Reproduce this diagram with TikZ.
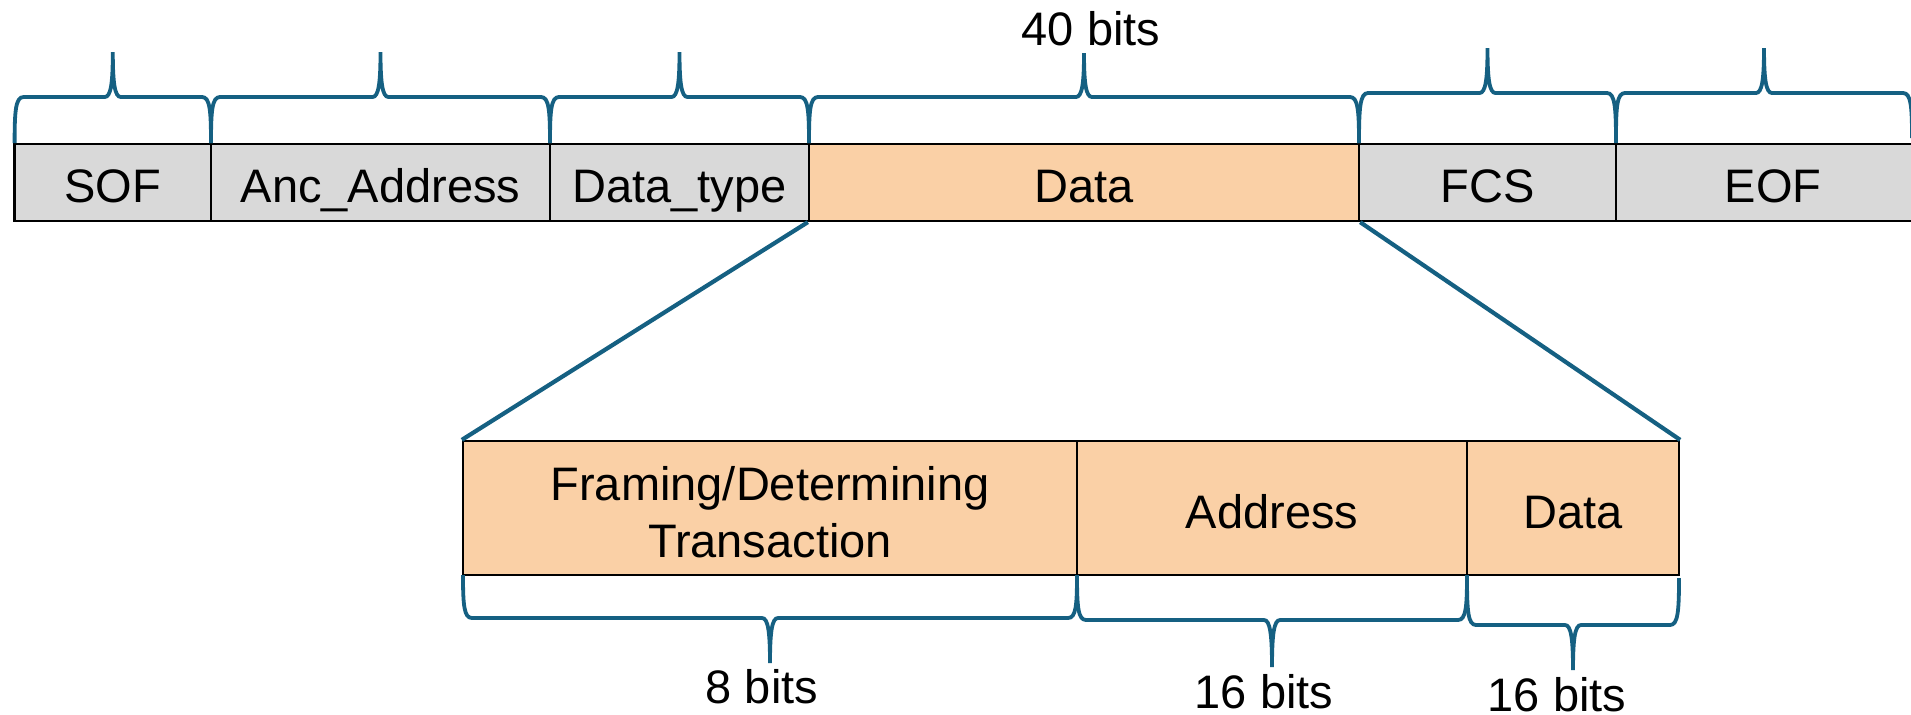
\documentclass[tikz,border=0pt]{standalone}
\usepackage{fontspec}
\setmainfont{Liberation Sans}
\usetikzlibrary{fit,calc}

\definecolor{bracecol}{HTML}{156082}
\definecolor{fieldgray}{HTML}{D9D9D9}
\definecolor{fieldpeach}{HTML}{FAD0A6}

\tikzset{
  field/.style={draw=black, line width=1.15pt, inner sep=0pt, fit={#1}},
  lbl/.style={font=\fontsize{23.5}{28}\selectfont, anchor=base, inner sep=0pt},
  bracestyle/.style={draw=bracecol, line width=1.9pt},
  zoomline/.style={draw=bracecol, line width=2.1pt},
}

% Curly brace over/under a field:
% #1,#2 = x of the two ends, #3 = y of the ends, #4 = y of the bar, #5 = y of the tip
\newcommand{\bitbrace}[5]{%
  \pgfmathsetmacro\bm{(#1+#2)/2}%
  \pgfmathsetmacro\be{#4+0.3*(#3-#4)}%
  \pgfmathsetmacro\bt{#4+0.3*(#5-#4)}%
  \draw[bracestyle] (#1,#3) .. controls (#1,\be) and (#1+1,#4) .. (#1+9,#4)
     -- (\bm-8,#4) .. controls (\bm-2,#4) and (\bm,\bt) .. (\bm,#5)
     .. controls (\bm,\bt) and (\bm+2,#4) .. (\bm+8,#4)
     -- (#2-9,#4) .. controls (#2-1,#4) and (#2,\be) .. (#2,#3);
}

\begin{document}
\begin{tikzpicture}[x=0.5pt,y=-0.5pt]
\useasboundingbox (0,0) rectangle (1911,714);
\clip (0,0) rectangle (1911,714);

% frame fields
\node[field={(14.6,144) (211,221)}, fill=fieldgray] (sof) {};
\node[field={(211,144) (550,221)}, fill=fieldgray] (anc) {};
\node[field={(550,144) (809,221)}, fill=fieldgray] (dtype) {};
\node[field={(809,144) (1359,221)}, fill=fieldpeach] (dat) {};
\node[field={(1359,144) (1616,221)}, fill=fieldgray] (fcs) {};
\node[field={(1616,144) (1930,221)}, fill=fieldgray] (eof) {};

\node[lbl] (tsof) at ($(sof.center)+(0,19.7)$) {SOF};
\node[lbl] (tanc) at ($(anc.center)+(0,19.7)$) {Anc\_Address};
\node[lbl] (tdtype) at ($(dtype.center)+(0,19.7)$) {Data\_type};
\node[lbl] (tdat) at ($(dat.center)+(0,19.7)$) {Data};
\node[lbl] (tfcs) at ($(fcs.center)+(0,19.7)$) {FCS};
\node[lbl] (teof) at ($(eof.center)+(0,19.7)$) {EOF};

% expanded data field
\node[field={(463,441) (1077,575)}, fill=fieldpeach] (fr) {};
\node[field={(1077,441) (1467,575)}, fill=fieldpeach] (ad) {};
\node[field={(1467,441) (1679,575)}, fill=fieldpeach] (dl) {};

\node[lbl] (tfr1) at ($(fr.center)+(0,-8)$) {Framing/Determining};
\node[lbl] (tfr2) at ($(fr.center)+(0,49)$) {Transaction};
\node[lbl] (tad) at ($(ad.center)+(0,20)$) {Address};
\node[lbl] (tdl) at ($(dl.center)+(0,20)$) {Data};

% zoom lines
\draw[zoomline] (dat.south west) -- (fr.north west);
\draw[zoomline] (dat.south east) -- (dl.north east);

% braces above the frame
\bitbrace{14.6}{211}{143}{97}{52}
\bitbrace{211}{550}{143}{97}{52}
\bitbrace{550}{809}{143}{97}{52}
\bitbrace{809}{1359}{143}{97}{53}
\bitbrace{1359}{1616}{143}{93}{48}
\bitbrace{1616}{1912}{138}{93}{48}

% braces below the expanded data field
\bitbrace{463}{1077}{575}{618}{663}
\bitbrace{1077}{1467}{575}{620}{667}
\bitbrace{1467}{1679}{578}{625}{670}

% sizes
\node[lbl] (b40) at (1091,45) {40 bits};
\node[lbl] (b8) at (762,703) {8 bits};
\node[lbl] (b16a) at (1264,708) {16 bits};
\node[lbl] (b16b) at (1557,711) {16 bits};
\end{tikzpicture}
\end{document}
